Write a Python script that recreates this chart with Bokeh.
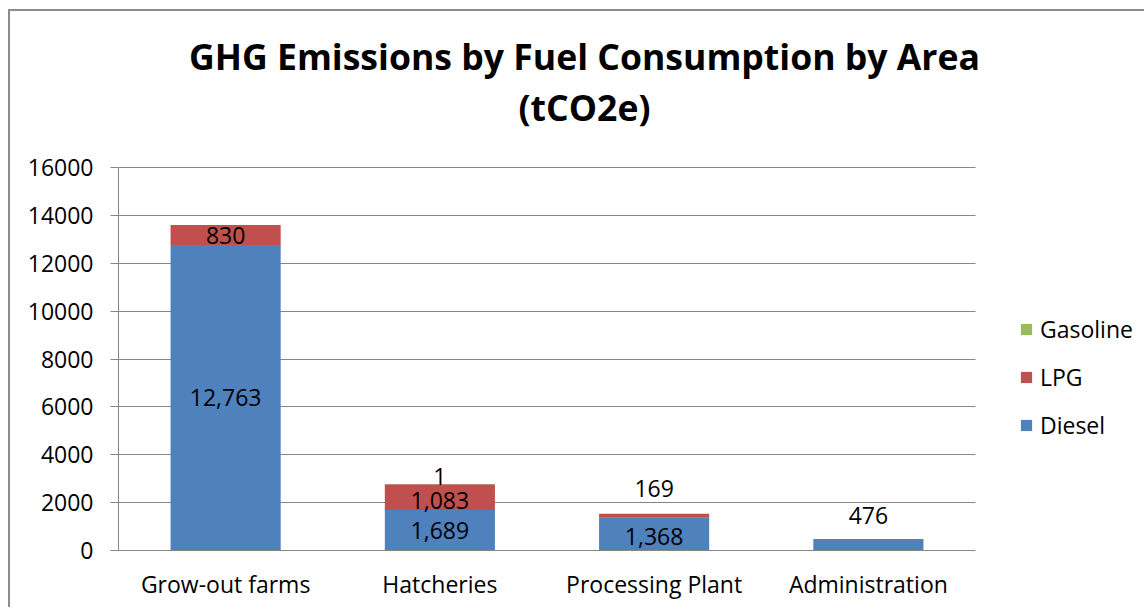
from bokeh.plotting import figure
from bokeh.models import (ColumnDataSource, Range1d, FixedTicker,
                          Legend, LegendItem, Label)
from bokeh.core.properties import value
from bokeh.embed import file_html
from bokeh.resources import INLINE

# --- data -------------------------------------------------------------
areas = ["Grow-out farms", "Hatcheries", "Processing Plant", "Administration"]
fuels = ["Diesel", "LPG", "Gasoline"]
diesel = [12763, 1689, 1368, 476]
lpg = [830, 1083, 169, 0]
gasoline = [0, 1, 0, 0]
y_ticks = [0, 2000, 4000, 6000, 8000, 10000, 12000, 14000, 16000]
title_lines = ["GHG Emissions by Fuel Consumption by Area", "(tCO2e)"]

colors = {"Diesel": "#4F81BD", "LPG": "#C0504D", "Gasoline": "#9BBB59"}
FONT = "Open Sans"
GRID = "#868686"

# category slots on a numeric axis: slot i spans [i, i+1]
n = len(areas)
slot_x = [i + 0.5 for i in range(n)]
y_max = y_ticks[-1]

# canvas geometry (px): the bar area sits inside a larger frame that also
# holds the title block above it and the legend to its right
W, H = 1136, 598
BAR_LEFT, BAR_RIGHT = 108, 965
BAR_TOP, BAR_BOTTOM = 156, 539
x_end = n * (W - BAR_LEFT) / (BAR_RIGHT - BAR_LEFT)
y_end = y_max * BAR_BOTTOM / (BAR_BOTTOM - BAR_TOP)

source = ColumnDataSource(dict(x=slot_x, area=areas, Diesel=diesel, LPG=lpg, Gasoline=gasoline))

p = figure(
    width=W, height=H,
    x_range=Range1d(0, x_end),
    y_range=Range1d(0, y_end),
    output_backend="svg", toolbar_location=None,
    min_border_left=BAR_LEFT, min_border_right=0,
    min_border_top=0, min_border_bottom=H - BAR_BOTTOM,
)
# chart box: grey rule along its top and left edges, no scrollbars inside
p.styles = {
    "position": "absolute", "left": "10px", "top": "11px",
    "box-shadow": "-2px -2px 0 0 #8c8c8c",
    "overflow": "hidden",
}
p.stylesheets = [
    ":host, :host * { overflow: hidden !important; scrollbar-width: none !important; }"
    " *::-webkit-scrollbar { display: none !important; width: 0 !important; height: 0 !important; }"
]
p.outline_line_color = None
p.background_fill_color = "white"
p.border_fill_color = "white"
p.title.visible = False

# --- stacked bars -----------------------------------------------------
renderers = p.vbar_stack(fuels, x="x", width=0.514, source=source,
                         color=[colors[f] for f in fuels], line_color=None)

# --- segment value labels ---------------------------------------------
# vertical nudges (screen px) for labels of very thin segments
nudge = {"Diesel": [0, 0, 2, -29], "LPG": [0, 3, -27, 0], "Gasoline": [0, -8, 0, 0]}
lab_x, lab_y, lab_t, lab_off = [], [], [], []
base = [0] * n
for fuel, vals in zip(fuels, [diesel, lpg, gasoline]):
    for i, v in enumerate(vals):
        if v > 0:
            lab_x.append(slot_x[i])
            lab_y.append(base[i] + v / 2)
            lab_t.append(f"{v:,}")
            lab_off.append(nudge[fuel][i])
        base[i] += v
lab_src = ColumnDataSource(dict(x=lab_x, y=lab_y, t=lab_t, off=lab_off))
p.text(x="x", y="y", text="t", y_offset="off", source=lab_src,
       text_font=value(FONT), text_font_size="23px", text_color="black",
       text_align="center", text_baseline="middle")

# --- axes & grid -------------------------------------------------------
p.yaxis.ticker = FixedTicker(ticks=y_ticks)
p.yaxis.bounds = (0, y_max)
p.yaxis.axis_line_color = GRID
p.yaxis.major_tick_line_color = GRID
p.yaxis.major_tick_out = 8
p.yaxis.major_tick_in = 0
p.yaxis.minor_tick_line_color = None
p.yaxis.major_label_standoff = 17

p.xaxis.ticker = FixedTicker(ticks=slot_x)
p.xaxis.major_label_overrides = {x: a for x, a in zip(slot_x, areas)}
p.xaxis.bounds = (0, n)
p.xaxis.axis_line_color = GRID
p.xaxis.major_tick_line_color = None
p.xaxis.minor_tick_line_color = None
p.xaxis.major_label_standoff = 11
for ax in (p.xaxis, p.yaxis):
    ax.major_label_text_font = FONT
    ax.major_label_text_font_size = "23px"
    ax.major_label_text_color = "black"

p.xgrid.grid_line_color = None
try:
    p.ygrid.cross_bounds = (0, n)
    p.ygrid.grid_line_color = GRID
except Exception:
    p.ygrid.grid_line_color = None
    p.segment(x0=0, x1=n, y0=y_ticks[1:], y1=y_ticks[1:], line_color=GRID, line_width=1)

# --- title block (two centred lines, screen px from frame bottom-left) --
TITLE_CX = 466
for text, baseline in zip(title_lines, [495, 444]):
    p.add_layout(Label(x=TITLE_CX, y=baseline, x_units="screen", y_units="screen",
                       text=text, text_align="center", text_baseline="alphabetic",
                       text_font=FONT, text_font_size="35.6px", text_font_style="bold",
                       text_color="black"))

# --- legend -----------------------------------------------------------
by_name = dict(zip(fuels, renderers))
legend = Legend(
    items=[LegendItem(label=f, renderers=[by_name[f]]) for f in ["Gasoline", "LPG", "Diesel"]],
    location=(901, 109), orientation="vertical",
    glyph_width=14, glyph_height=14, label_standoff=7, label_height=24,
    spacing=16, padding=0, margin=0,
    label_text_font=FONT, label_text_font_size="23px", label_text_color="black",
    border_line_color=None, background_fill_alpha=0,
)
p.add_layout(legend, "center")

open("out.html", "w").write(file_html(p, INLINE))
